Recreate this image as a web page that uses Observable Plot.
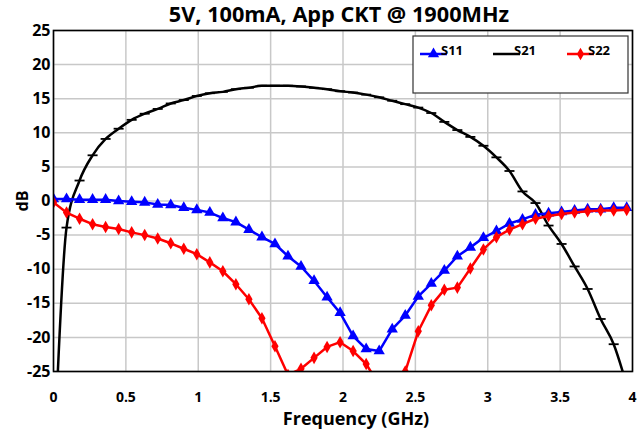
<!DOCTYPE html>
<html><head><meta charset="utf-8">
<script src="https://cdn.jsdelivr.net/npm/d3@7"></script>
<script src="https://cdn.jsdelivr.net/npm/@observablehq/plot@0.6"></script>
<style>
body{margin:0;background:#fff;}
#chart{position:relative;width:644px;height:434px;}
</style></head><body><div id="chart"></div>
<script>
const title = "5V, 100mA, App CKT @ 1900MHz";
const xLabel = "Frequency (GHz)";
const yLabel = "dB";
const xTicks = [0, 0.5, 1, 1.5, 2, 2.5, 3, 3.5, 4];
const yTicks = [-25, -20, -15, -10, -5, 0, 5, 10, 15, 20, 25];
const seriesNames = ["S11", "S21", "S22"];
const seriesColors = ["#0000ff", "#000000", "#ff0000"];

const freq = [0, 0.09, 0.18, 0.27, 0.36, 0.45, 0.54, 0.63, 0.72, 0.81,
  0.90, 0.99, 1.08, 1.17, 1.26, 1.35, 1.44, 1.53, 1.62, 1.71,
  1.80, 1.89, 1.98, 2.07, 2.16, 2.25, 2.34, 2.43, 2.52, 2.61,
  2.70, 2.79, 2.88, 2.97, 3.06, 3.15, 3.24, 3.33, 3.42, 3.51,
  3.60, 3.69, 3.78, 3.87, 3.96];
const s11 = [0.3, 0.3, 0.2, 0.2, 0.2, 0.0, -0.1, -0.2, -0.5, -0.6,
  -1.0, -1.3, -1.7, -2.5, -3.1, -4.2, -5.3, -6.3, -8.1, -9.6,
  -11.7, -14.1, -16.4, -19.8, -21.7, -22.0, -18.8, -16.8, -14.0, -12.1,
  -10.2, -8.1, -6.8, -5.4, -4.4, -3.3, -2.7, -2.0, -1.8, -1.6,
  -1.4, -1.2, -1.2, -1.0, -1.0];
const s21 = [-40, -3.9, 3.0, 6.7, 9.1, 10.6, 11.9, 12.8, 13.5, 14.3,
  14.8, 15.4, 15.8, 16.0, 16.4, 16.6, 16.9, 16.9, 16.9, 16.8,
  16.6, 16.4, 16.1, 15.9, 15.6, 15.2, 14.7, 14.2, 13.7, 12.9,
  11.6, 10.4, 9.4, 8.1, 6.4, 4.4, 1.4, -0.3, -3.6, -6.3,
  -9.6, -12.9, -17.3, -21.0, -27.0];
const s22 = [-0.2, -1.7, -2.6, -3.4, -3.8, -4.1, -4.6, -5.0, -5.5, -6.2,
  -7.0, -7.8, -9.0, -10.3, -12.2, -14.4, -17.2, -21.3, -25.5, -24.6,
  -23.0, -21.4, -20.7, -22.0, -23.9, -27.0, -30.0, -25.0, -19.1, -15.3,
  -13.0, -12.7, -9.9, -7.1, -5.3, -4.2, -3.4, -2.6, -2.2, -1.9,
  -1.7, -1.5, -1.4, -1.4, -1.3];

const rows = (vals) => freq.map((f, i) => ({f, v: vals[i]}));
const d11 = rows(s11), d21 = rows(s21), d22 = rows(s22);

const dash = {draw(ctx, size) { const r = Math.sqrt(size / Math.PI); ctx.moveTo(-r, 0); ctx.lineTo(r, 0); }};

const font = "'Open Sans', 'DejaVu Sans', sans-serif";
const fmt = d => String(d);

const chart = Plot.plot({
  width: 644, height: 434,
  marginLeft: 53, marginRight: 12, marginTop: 30, marginBottom: 63,
  style: {fontFamily: font, fontWeight: "bold", fontSize: "16px", color: "#000", background: "#fff"},
  x: {domain: [0, 4], ticks: xTicks, tickFormat: fmt},
  y: {domain: [-25, 25], ticks: yTicks, tickFormat: fmt},
  marks: [
    Plot.gridX(xTicks, {stroke: "#c8c8c8", strokeOpacity: 1, strokeWidth: 1.5}),
    Plot.gridY(yTicks, {stroke: "#c8c8c8", strokeOpacity: 1, strokeWidth: 1.5}),
    Plot.axisX(xTicks, {tickSize: 0, tickPadding: 21, tickFormat: fmt, label: null, fontSize: 14}),
    Plot.axisY(yTicks, {tickSize: 0, tickPadding: 3, tickFormat: fmt, label: null, fontSize: 16}),
    Plot.line(d21, {x: "f", y: "v", stroke: seriesColors[1], strokeWidth: 2.5, curve: "monotone-x", clip: true}),
    Plot.dot(d21, {x: "f", y: "v", symbol: dash, r: 5, stroke: seriesColors[1], strokeWidth: 1.8, fill: "none", clip: true}),
    Plot.line(d11, {x: "f", y: "v", stroke: seriesColors[0], strokeWidth: 2.5, clip: true}),
    Plot.dot(d11, {x: "f", y: "v", symbol: "triangle", r: 4.2, fill: seriesColors[0], stroke: "none", clip: true}),
    Plot.line(d22, {x: "f", y: "v", stroke: seriesColors[2], strokeWidth: 2.5, clip: true}),
    Plot.dot(d22, {x: "f", y: "v", symbol: "diamond", r: 3.8, fill: seriesColors[2], stroke: "none", clip: true}),
    Plot.frame({stroke: "#000", strokeWidth: 1.6}),
    Plot.text([title], {frameAnchor: "top", lineAnchor: "middle", textAnchor: "middle", dx: -4, dy: -15, fontSize: 21.7, fontWeight: "bold"}),
    Plot.text([xLabel], {frameAnchor: "bottom", lineAnchor: "middle", textAnchor: "middle", dx: 13, dy: 48, fontSize: 18, fontWeight: "bold"}),
    Plot.text([yLabel], {frameAnchor: "left", lineAnchor: "middle", textAnchor: "middle", dx: -31, rotate: -90, fontSize: 16, fontWeight: "bold"})
  ]
});
document.getElementById("chart").appendChild(chart);

// legend
const svg = d3.select(chart);
const lg = svg.append("g").attr("font-family", font).attr("font-weight", "bold").attr("font-size", 13);
lg.append("rect").attr("x", 413).attr("y", 36).attr("width", 215).attr("height", 57)
  .attr("fill", "#fff").attr("stroke", "#333").attr("stroke-width", 1.2);
const lx = [420, 493, 567];
const symbols = [d3.symbolTriangle, null, d3.symbolDiamond];
seriesNames.forEach((name, i) => {
  const x0 = lx[i], y0 = 54;
  lg.append("line").attr("x1", x0).attr("x2", x0 + 27).attr("y1", y0).attr("y2", y0)
    .attr("stroke", seriesColors[i]).attr("stroke-width", 2.5);
  if (symbols[i]) {
    lg.append("path").attr("transform", `translate(${x0 + 13.5},${y0})`)
      .attr("d", d3.symbol(symbols[i], i === 0 ? 55 : 45)()).attr("fill", seriesColors[i]);
  }
  lg.append("text").attr("x", x0 + 32).attr("y", y0).attr("dy", "0.1em").text(name);
});
</script></body></html>
